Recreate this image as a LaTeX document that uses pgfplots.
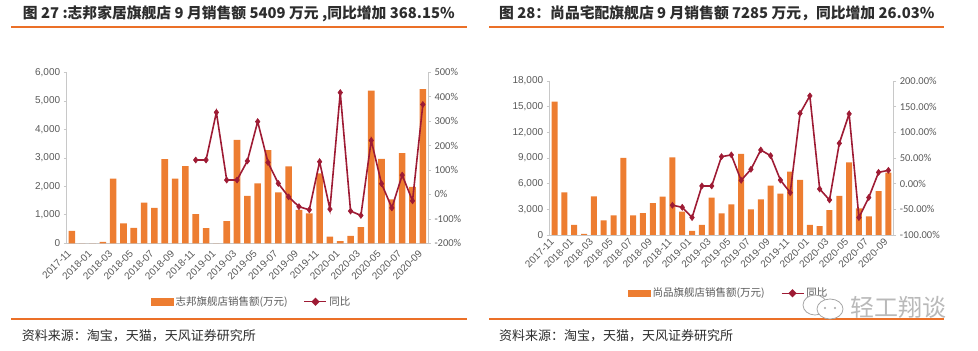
\documentclass[border=0pt]{standalone}
\usepackage{pgfplots}
\pgfplotsset{compat=1.18}
\usepackage{fontspec}
\setmainfont{Liberation Sans}
\newfontfamily\cjk{Noto Sans CJK SC}
\newfontfamily\carlito{Carlito}
\definecolor{barorange}{RGB}{237,125,49}
\definecolor{linered}{RGB}{158,27,52}
\definecolor{tickgray}{RGB}{89,89,89}
\definecolor{axisgray}{RGB}{200,200,200}
\definecolor{ruleorange}{RGB}{235,112,40}
\definecolor{titlegray}{RGB}{45,45,45}

\pgfplotsset{
  base/.style={scale only axis, xmin=0.5, xmax=35.5, scaled y ticks=false,
    tick label style={font=\fontsize{10}{12}\selectfont, text=tickgray},
    axis line style={axisgray, line width=0.8pt},
    tick style={axisgray, line width=0.6pt},
    major tick length=3pt,
    tick align=outside,
  },
  xlab/.style={xtick={1,3,...,35},
    xticklabels={2017-11,2018-01,2018-03,2018-05,2018-07,2018-09,2018-11,2019-01,2019-03,2019-05,2019-07,2019-09,2019-11,2020-01,2020-03,2020-05,2020-07,2020-09},
    x tick label style={rotate=45, anchor=east, font=\fontsize{10}{12}\selectfont},
    every major x tick/.style={draw=none},
  },
  yoy/.style={linered, line width=1.6pt, mark=diamond*, mark size=3pt, mark options={fill=linered, line width=0.6pt},
    legend image code/.code={\draw[linered,line width=1.6pt] (0pt,0pt)--(22pt,0pt); \fill[linered] (11pt,3pt) -- (14pt,0pt) -- (11pt,-3pt) -- (8pt,0pt) -- cycle;}},
}

\begin{document}
\begin{tikzpicture}[x=1pt,y=1pt]
\path[use as bounding box] (0,0) rectangle (978,351);

% ---------------- Left panel ----------------
\node[anchor=west, inner sep=0pt, text=titlegray] at (22.7,337.7) {\cjk\bfseries\fontsize{14.8}{18}\selectfont 图 27 :志邦家居旗舰店 9 月销售额 5409 万元 ,同比增加 368.15\%};
\draw[ruleorange, line width=2pt] (11,324.3) -- (467,324.3);
\draw[ruleorange, line width=2pt] (11,32) -- (467,32);
\node[anchor=west, inner sep=0pt, text=titlegray] at (21.7,15) {\cjk\fontsize{13}{15}\selectfont 资料来源：淘宝，天猫，天风证券研究所};

\begin{axis}[base, xlab, xticklabel shift=3pt, at={(66.7pt,107.7pt)}, anchor=south west, width=361.3pt, height=171pt,
  axis y line*=left, axis x line*=bottom,
  ymin=0, ymax=6000, ytick={0,1000,...,6000},
  yticklabels={0,{1,000},{2,000},{3,000},{4,000},{5,000},{6,000}}]
\addplot[ybar, bar width=6.6pt, fill=barorange, draw=none] coordinates {
(1,440) (2,0) (3,0) (4,50) (5,2270) (6,700) (7,540) (8,1430) (9,1240) (10,2950)
(11,2270) (12,2710) (13,1020) (14,530) (15,0) (16,780) (17,3630) (18,1660) (19,2100) (20,3270)
(21,1790) (22,2700) (23,1170) (24,1050) (25,2450) (26,230) (27,80) (28,260) (29,570) (30,5360)
(31,2960) (32,1540) (33,3160) (34,1980) (35,5409)};
\end{axis}

\begin{axis}[base, at={(66.7pt,107.7pt)}, anchor=south west, width=361.3pt, height=171pt,
  axis y line*=right, axis x line=none,
  ymin=-200, ymax=500, ytick={-200,-100,...,500},
  yticklabels={-200\%,-100\%,0\%,100\%,200\%,300\%,400\%,500\%},
  y tick label style={font=\carlito\fontsize{10.5}{12}\selectfont},
  legend style={at={(axis description cs:0.225,-0.3415)}, anchor=west, draw=none, fill=none,
    legend columns=2, font=\cjk\fontsize{10.5}{12}\selectfont, text=tickgray,
    /tikz/every even column/.append style={column sep=14pt}},
  legend cell align=left]
\addlegendimage{legend image code/.code={\fill[barorange] (0pt,-3.3pt) rectangle (22pt,3.3pt);}}
\addlegendentry{志邦旗舰店销售额(万元)}
\addplot[yoy] coordinates {
(13,141) (14,141) (15,336) (16,59) (17,59) (18,137) (19,298) (20,131) (21,45) (22,-10)
(23,-50) (24,-63) (25,134) (26,-60) (27,417) (28,-68) (29,-86) (30,221) (31,44) (32,-55)
(33,79) (34,-26) (35,368.15)};
\addlegendentry{同比}
\end{axis}

% ---------------- Right panel ----------------
\node[anchor=west, inner sep=0pt, text=titlegray] at (499,337.7) {\cjk\bfseries\fontsize{14.8}{18}\selectfont 图 28：尚品宅配旗舰店 9 月销售额 7285 万元，同比增加 26.03\%};
\draw[ruleorange, line width=2pt] (489,324.3) -- (944,324.3);
\draw[ruleorange, line width=2pt] (489,32) -- (944,32);
\node[anchor=west, inner sep=0pt, text=titlegray] at (499,15) {\cjk\fontsize{13}{15}\selectfont 资料来源：淘宝，天猫，天风证券研究所};

\begin{axis}[base, xlab, at={(549.7pt,116pt)}, anchor=south west, width=343.6pt, height=154pt,
  axis y line*=left, axis x line*=bottom,
  ymin=0, ymax=18000, ytick={0,3000,...,18000},
  yticklabels={0,{3,000},{6,000},{9,000},{12,000},{15,000},{18,000}}]
\addplot[ybar, bar width=6pt, fill=barorange, draw=none] coordinates {
(1,15600) (2,4990) (3,1170) (4,120) (5,4520) (6,1710) (7,2300) (8,9000) (9,2300) (10,2570)
(11,3740) (12,4480) (13,9080) (14,2730) (15,470) (16,1170) (17,4360) (18,2530) (19,3580) (20,9470)
(21,3000) (22,4170) (23,5770) (24,4830) (25,7400) (26,6430) (27,1170) (28,1050) (29,2920) (30,4560)
(31,8490) (32,3120) (33,2180) (34,5140) (35,7285)};
\end{axis}

\begin{axis}[base, at={(549.7pt,116pt)}, anchor=south west, width=343.6pt, height=154pt,
  axis y line*=right, axis x line=none,
  ymin=-100, ymax=200, ytick={-100,-50,...,200},
  yticklabels={-100.00\%,-50.00\%,0.00\%,50.00\%,100.00\%,150.00\%,200.00\%},
  y tick label style={font=\carlito\fontsize{10.5}{12}\selectfont},
  legend style={at={(axis description cs:0.2192,-0.3786)}, anchor=west, draw=none, fill=none,
    legend columns=2, font=\cjk\fontsize{10.5}{12}\selectfont, text=tickgray,
    /tikz/every even column/.append style={column sep=14pt}},
  legend cell align=left]
\addlegendimage{legend image code/.code={\fill[barorange] (0pt,-3.3pt) rectangle (22pt,3.3pt);}}
\addlegendentry{尚品旗舰店销售额(万元)}
\addplot[yoy] coordinates {
(13,-42) (14,-46) (15,-66) (16,-4.5) (17,-4.5) (18,52.6) (19,56) (20,6.5) (21,28) (22,65.6)
(23,54.5) (24,7) (25,-17.5) (26,137) (27,171) (28,-10.4) (29,-31.8) (30,78.6) (31,136) (32,-66)
(33,-27) (34,22) (35,26.03)};
\addlegendentry{同比}
\end{axis}

% watermark
\draw[gray!70, fill=white, line width=0.8pt] (815,46) ellipse (12 and 10);
\draw[gray!70, fill=white, line width=0.8pt] (830,42) ellipse (13 and 10);
\fill[gray!70] (825,43) circle (1.1) (835,43) circle (1.1);
\node[text=gray!55, inner sep=0pt] at (898,44) {\cjk\fontsize{24}{26}\selectfont 轻工翔谈};
\end{tikzpicture}
\end{document}
